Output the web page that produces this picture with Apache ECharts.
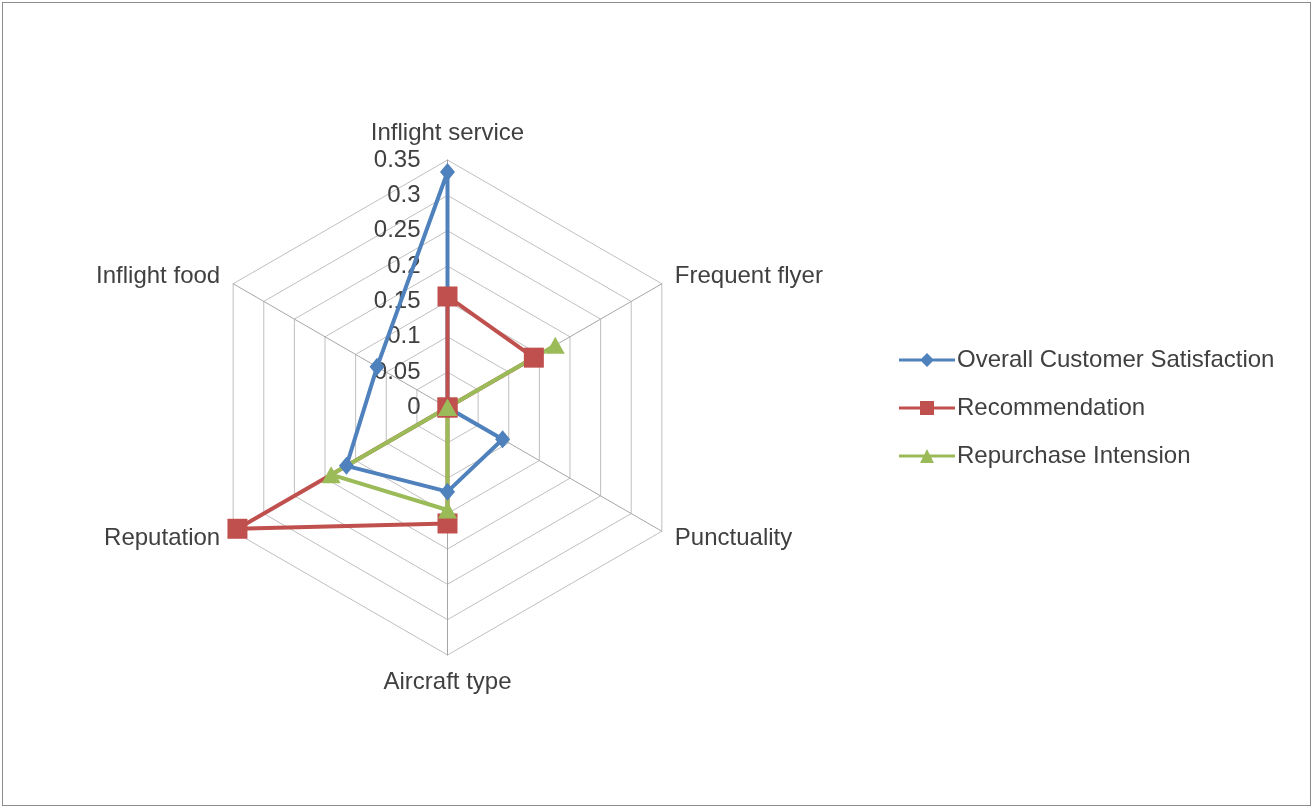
<!DOCTYPE html>
<html>
<head>
<meta charset="utf-8">
<script src="https://cdn.jsdelivr.net/npm/echarts@6/dist/echarts.min.js"></script>
<style>
  html, body { margin: 0; padding: 0; background: #ffffff; }
  #frame { position: absolute; left: 2px; top: 2px; width: 1309px; height: 804px; border: 1px solid #8c8c8c; box-sizing: border-box; }
  #chart { position: absolute; left: 0; top: 0; width: 1314px; height: 809px; }
</style>
</head>
<body>
<div id="frame"></div>
<div id="chart"></div>
<script>
// Axes, listed clockwise from the top
const categories = ['Inflight service', 'Frequent flyer', 'Punctuality', 'Aircraft type', 'Reputation', 'Inflight food'];
const seriesNames = ['Overall Customer Satisfaction', 'Recommendation', 'Repurchase Intension'];

// Scores per axis, same order as categories
const overallSatisfaction = [0.333, 0.0, 0.09, 0.119, 0.165, 0.115];
const recommendation      = [0.157, 0.141, 0.0, 0.164, 0.343, 0.0];
const repurchaseIntension = [0.0, 0.176, 0.0, 0.145, 0.19, 0.0];

// Radial scale
const axisMin = 0;
const axisMax = 0.35;
const axisSplits = 7;

const colors = ['#4f81bd', '#c0504d', '#9bbb59'];
const symbols = ['diamond', 'rect', 'triangle'];
const symbolSizes = [[15, 18], 20, [19, 17]];
const legendIcons = [
  'path://M0 5.5H56V8.5H0Z M28 0L35 7L28 14L21 7Z',
  'path://M0 5.5H56V8.5H0Z M21 0H35V14H21Z',
  'path://M0 5.5H56V8.5H0Z M28 0L35 14L21 14Z'
];

// ECharts places radar indicators counter-clockwise, so walk the list backwards after the first
const drawOrder = [0].concat(categories.slice(1).map((_, i) => categories.length - 1 - i));
const reorder = arr => drawOrder.map(i => arr[i]);

const textColor = '#404040';
const fontFamily = '"Liberation Sans", Arial, sans-serif';
const fontSize = 24;

const indicators = reorder(categories).map((name, i) => ({
  name: name,
  min: axisMin,
  max: axisMax,
  axisLabel: { show: i === 0 }
}));

const chart = echarts.init(document.getElementById('chart'), null, { renderer: 'canvas' });

chart.setOption({
  backgroundColor: 'transparent',
  animation: false,
  textStyle: { fontFamily: fontFamily },
  legend: {
    orient: 'vertical',
    left: 899,
    top: 348,
    padding: 0,
    itemWidth: 56,
    itemHeight: 14,
    itemGap: 24,
    textStyle: { fontSize: fontSize, color: textColor, fontFamily: fontFamily, padding: [0, 0, 0, -3] },
    data: seriesNames.map((n, i) => ({ name: n, icon: legendIcons[i], itemStyle: { color: colors[i] } }))
  },
  radar: {
    center: [447.5, 407.5],
    radius: 247.5,
    startAngle: 90,
    shape: 'polygon',
    splitNumber: axisSplits,
    indicator: indicators,
    axisName: { color: textColor, fontSize: fontSize, fontFamily: fontFamily },
    nameGap: 15,
    axisLine: { lineStyle: { color: '#a6a6a6', width: 1 } },
    splitLine: { lineStyle: { color: '#bfbfbf', width: 1 } },
    splitArea: { show: false },
    axisTick: { show: false },
    axisLabel: {
      show: false,
      color: textColor,
      fontSize: fontSize,
      fontFamily: fontFamily,
      margin: 27,
      padding: [5, 0, 0, 0],
      formatter: v => String(parseFloat(Number(v).toFixed(2)))
    }
  },
  series: seriesNames.map((name, i) => ({
    type: 'radar',
    name: name,
    symbol: symbols[i],
    symbolSize: symbolSizes[i],
    lineStyle: { color: colors[i], width: 4 },
    itemStyle: { color: colors[i] },
    data: [{
      name: name,
      value: reorder([overallSatisfaction, recommendation, repurchaseIntension][i])
    }]
  }))
});
</script>
</body>
</html>
